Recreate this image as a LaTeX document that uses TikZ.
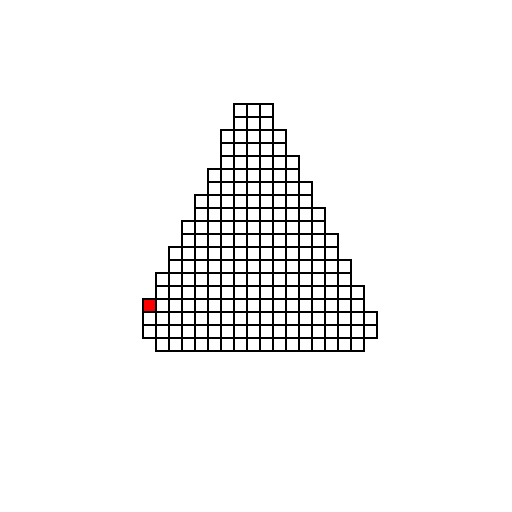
\documentclass[tikz,border=0pt]{standalone}
\begin{document}
\begin{tikzpicture}[x=1pt,y=-1pt,
  cell/.style={draw=black,line width=2pt,line join=miter},
  marked/.style={fill=red}]
\useasboundingbox (0,0) rectangle (512,512);
\fill[white] (0,0) rectangle (512,512);
\fill[marked] (143.3,298.7) rectangle ++(13,13);
\foreach \r/\a/\b in {0/7/9,1/7/9,2/6/10,3/6/10,4/6/11,5/5/11,6/5/12,7/4/12,8/4/13,9/3/13,10/3/14,11/2/14,12/2/15,13/1/15,14/1/16,15/0/16,16/0/17,17/0/17,18/1/16}{
  \foreach \c in {\a,...,\b}{
    \draw[cell] ({143.3+13*\c},{103.7+13*\r}) rectangle ++(13,13);
  }
}
\end{tikzpicture}
\end{document}
